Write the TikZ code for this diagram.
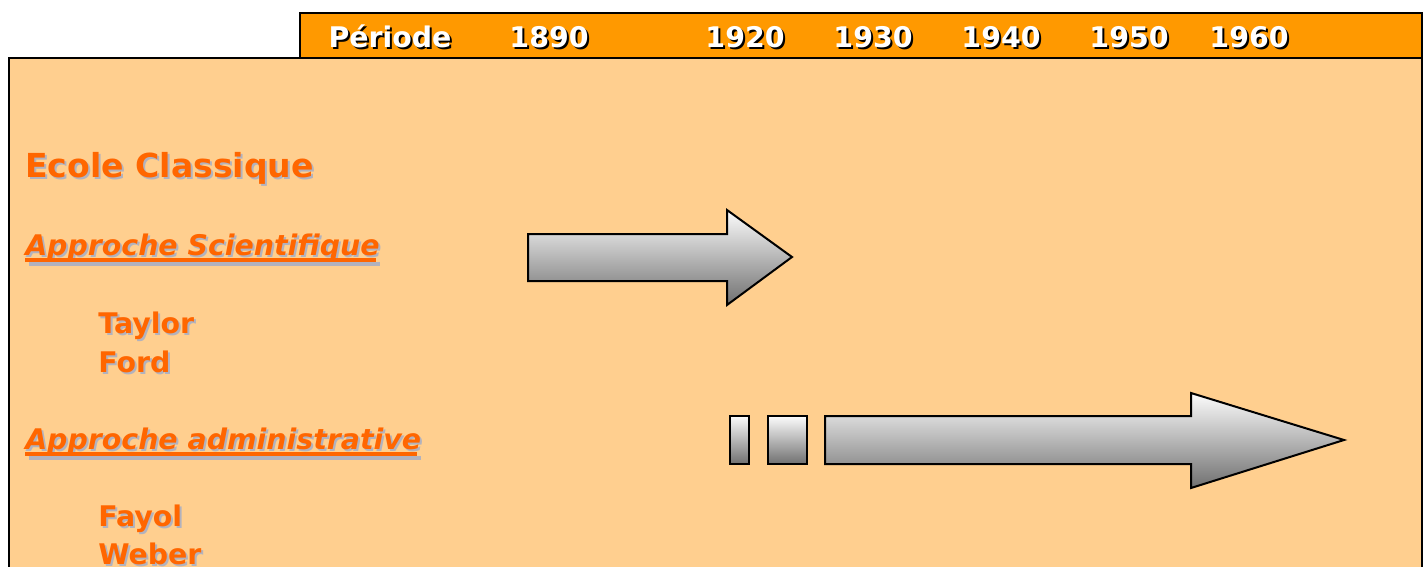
\documentclass[tikz,border=0pt]{standalone}
\usepackage{fontspec}
\setmainfont{DejaVu Sans}
\usetikzlibrary{positioning}

\begin{document}
\begin{tikzpicture}[
  x=0.75pt, y=-0.75pt,
  headtext/.style={font=\bfseries\fontsize{21.3}{21.3}\selectfont, text=white, inner sep=0pt, anchor=base},
  headshadow/.style={headtext, text=black},
  titletext/.style={font=\bfseries\fontsize{24.8}{24.8}\selectfont, text=textOrange, inner sep=0pt, anchor=base west},
  itemtext/.style={font=\bfseries\fontsize{21.3}{21.3}\selectfont, text=textOrange, inner sep=0pt, anchor=base west},
  approchetext/.style={itemtext, font=\bfseries\itshape\fontsize{21.3}{21.3}\selectfont},
  textshadow/.style={text=shadowGray},
  underline/.style={line width=3pt, draw=textOrange},
  arrowbody/.style={draw=black, line width=1.5pt, line join=miter, top color=arrowTop, bottom color=arrowBottom},
]

\definecolor{barOrange}{RGB}{255,153,0}
\definecolor{panelPeach}{RGB}{255,207,143}
\definecolor{textOrange}{RGB}{255,102,0}
\definecolor{shadowGray}{RGB}{178,178,190}
\definecolor{arrowTop}{RGB}{252,252,252}
\definecolor{arrowBottom}{RGB}{112,112,112}

\def\sh{2}

\useasboundingbox (0,0) rectangle (1428,567);

% Main panel (cut at the bottom).
\fill[panelPeach] (9,58) rectangle (1422,570);
\draw[line width=2pt] (9,572) -- (9,58) -- (1422,58) -- (1422,572);

% Header bar.
\draw[fill=barOrange, line width=2pt] (300,13) rectangle (1422,58);

% Header labels, each with its shadow.
\foreach \lbl/\xpos [count=\i] in {P\'eriode/390, 1890/549, 1920/745, 1930/873, 1940/1001, 1950/1129, 1960/1249} {
  \node[headshadow] (hs\i) at (\xpos+\sh,48+\sh) {\lbl};
  \node[headtext] (h\i) at (\xpos,48) {\lbl};
}

% School title.
\node[titletext, textshadow] (ecoleS) at (25+\sh,177+\sh) {Ecole Classique};
\node[titletext] (ecole) at (25,177) {Ecole Classique};

% Approche scientifique.
\node[approchetext, textshadow] (sciS) at (25+\sh,255+\sh) {Approche Scientifique};
\draw[underline, draw=shadowGray] ([xshift=1.5pt, yshift=-5.5pt]sciS.base west) -- ([xshift=-1.5pt, yshift=-5.5pt]sciS.base east);
\node[approchetext] (sci) at (25,255) {Approche Scientifique};
\draw[underline] ([yshift=-4pt]sci.base west) -- ([xshift=-3pt, yshift=-4pt]sci.base east);
\node[itemtext, textshadow] (taylorS) at (98+\sh,333+\sh) {Taylor};
\node[itemtext] (taylor) at (98,333) {Taylor};
\node[itemtext, textshadow] (fordS) at (98+\sh,372+\sh) {Ford};
\node[itemtext] (ford) at (98,372) {Ford};

% Approche administrative.
\node[approchetext, textshadow] (admS) at (25+\sh,449+\sh) {Approche administrative};
\draw[underline, draw=shadowGray] ([xshift=1.5pt, yshift=-5.5pt]admS.base west) -- ([xshift=-1.5pt, yshift=-5.5pt]admS.base east);
\node[approchetext] (adm) at (25,449) {Approche administrative};
\draw[underline] ([yshift=-4pt]adm.base west) -- ([xshift=-3pt, yshift=-4pt]adm.base east);
\node[itemtext, textshadow] (fayolS) at (98+\sh,526+\sh) {Fayol};
\node[itemtext] (fayol) at (98,526) {Fayol};
\node[itemtext, textshadow] (weberS) at (98+\sh,564+\sh) {Weber};
\node[itemtext] (weber) at (98,564) {Weber};

% Arrow for the scientific approach.
\draw[arrowbody] (528,234) -- (727,234) -- (727,210) -- (792,257)
  -- (727,305) -- (727,281) -- (528,281) -- cycle;

% Broken start and arrow for the administrative approach.
\draw[arrowbody] (730,416) rectangle (749,464);
\draw[arrowbody] (768,416) rectangle (807,464);
\draw[arrowbody] (825,416) -- (1191,416) -- (1191,393) -- (1344,440)
  -- (1191,488) -- (1191,464) -- (825,464) -- cycle;

\end{tikzpicture}
\end{document}
